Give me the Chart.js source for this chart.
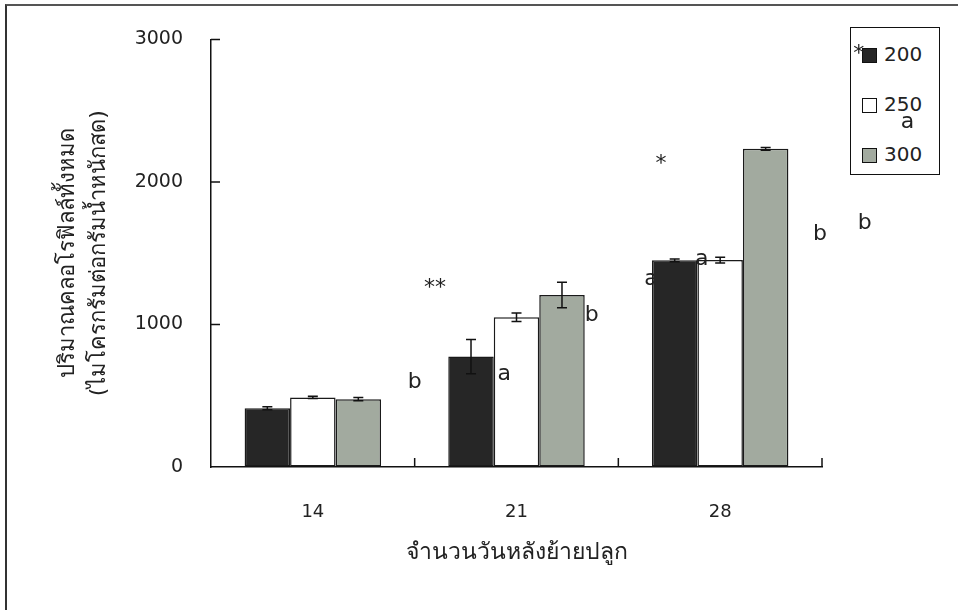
<!DOCTYPE html>
<html>
<head>
<meta charset="utf-8">
<script src="https://cdn.jsdelivr.net/npm/chart.js@4.4.1/dist/chart.umd.min.js"></script>
<style>
    html, body { margin: 0; padding: 0; background: #fff; }
    #wrap { position: relative; width: 958px; height: 610px; overflow: hidden; background: #fff; }
    #chart { position: absolute; left: 0; top: 0; z-index: 2; }
    #frame { position: absolute; left: 5px; top: 4px; width: 960px; height: 620px; z-index: 3;
             border-left: 2px solid #333; border-top: 2px solid #555; }
    #legend { position: absolute; left: 850px; top: 27px; width: 88px; height: 146px; z-index: 1;
              border: 1.5px solid #111; background: #fff;
              font-family: "DejaVu Sans", sans-serif; font-size: 20px; color: #222; }
    .item { position: absolute; left: 11px; height: 20px; line-height: 20px; }
    .box { display: inline-block; width: 15px; height: 15px; border: 1.5px solid #111;
           vertical-align: -2px; margin-right: 7px; box-sizing: border-box; }
</style>
</head>
<body>
<div id="wrap">
    <div id="legend"></div>
    <canvas id="chart" width="958" height="610"></canvas>
    <div id="frame"></div>
</div>
<script>
// data
const days = ["14", "21", "28"];
const seriesNames = ["200", "250", "300"];
const values200 = [412, 775, 1450];
const values250 = [488, 1050, 1452];
const values300 = [476, 1207, 2232];
const err200 = [10, 120, 10];
const err250 = [8, 30, 20];
const err300 = [12, 90, 10];
const yTicks = [0, 1000, 2000, 3000];
const colors = ["#262626", "#ffffff", "#a2aa9f"];

// stray significance marks printed on the figure: [category position, value, text, behind bars]
const marks = [
    [0.5, 593, "b"],
    [0.6, 1256, "**"],
    [0.94, 649, "a"],
    [1.37, 1061, "b"],
    [1.66, 1320, "a", true],
    [1.91, 1458, "a"],
    [1.71, 2121, "*"],
    [2.49, 1633, "b"],
    [2.71, 1710, "b"],
    [2.92, 2421, "a"],
    [2.68, 2896, "*"]
];

const FONT = "'DejaVu Sans', 'Noto Sans', sans-serif";

const values = [values200, values250, values300];
const errs = [err200, err250, err300];

const legend = document.getElementById("legend");
seriesNames.forEach((name, i) => {
    const d = document.createElement("div");
    d.className = "item";
    d.style.top = (16 + i * 50) + "px";
    d.innerHTML = '<span class="box" style="background:' + colors[i] + '"></span>' + name;
    legend.appendChild(d);
});

function drawMarks(chart, behind) {
    const ctx = chart.ctx;
    const x = chart.scales.x, y = chart.scales.y;
    ctx.save();
    ctx.fillStyle = "#222";
    ctx.font = "22px " + FONT;
    ctx.textAlign = "center";
    ctx.textBaseline = "middle";
    marks.filter(m => !!m[3] === behind).forEach(m => {
        ctx.fillText(m[2], x.getPixelForValue(m[0]), y.getPixelForValue(m[1]));
    });
    ctx.restore();
}

const errorBars = {
    id: "errorBars",
    beforeDatasetsDraw(chart) {
        drawMarks(chart, true);
    },
    afterDatasetsDraw(chart) {
        const ctx = chart.ctx;
        const y = chart.scales.y;
        ctx.save();
        ctx.strokeStyle = "#111";
        ctx.lineWidth = 1.5;
        errs.forEach((e, i) => {
            chart.getDatasetMeta(i).data.forEach((bar, j) => {
                const v = values[i][j];
                const top = y.getPixelForValue(v + e[j]);
                const bot = y.getPixelForValue(v - e[j]);
                ctx.beginPath();
                ctx.moveTo(bar.x, top); ctx.lineTo(bar.x, bot);
                ctx.moveTo(bar.x - 5, top); ctx.lineTo(bar.x + 5, top);
                ctx.moveTo(bar.x - 5, bot); ctx.lineTo(bar.x + 5, bot);
                ctx.stroke();
            });
        });
        ctx.restore();
    }
};

const axisExtras = {
    id: "axisExtras",
    afterDraw(chart) {
        const ctx = chart.ctx;
        const x = chart.scales.x, y = chart.scales.y;
        const a = chart.chartArea;
        ctx.save();
        ctx.strokeStyle = "#111";
        ctx.lineWidth = 1.5;
        ctx.beginPath();
        yTicks.slice(1).forEach(t => {
            const py = y.getPixelForValue(t);
            ctx.moveTo(a.left, py); ctx.lineTo(a.left + 9, py);
        });
        for (let k = 0; k < days.length; k++) {
            const px = x.getPixelForValue(k + 0.5);
            ctx.moveTo(px, a.bottom); ctx.lineTo(px, a.bottom - 9);
        }
        ctx.stroke();
        ctx.restore();
        drawMarks(chart, false);
    }
};

new Chart(document.getElementById("chart"), {
    type: "bar",
    data: {
        labels: days,
        datasets: seriesNames.map((name, i) => ({
            label: name,
            data: values[i],
            backgroundColor: colors[i],
            borderColor: "#1a1a1a",
            borderWidth: 1.5,
            borderSkipped: false
        }))
    },
    options: {
        responsive: false,
        animation: false,
        layout: { padding: { left: 0, right: 136, top: 37, bottom: 43 } },
        datasets: { bar: { categoryPercentage: 0.67, barPercentage: 1 } },
        plugins: { legend: { display: false }, tooltip: { enabled: false } },
        scales: {
            x: {
                grid: { display: false },
                border: { color: "#111", width: 1.5 },
                ticks: { color: "#222", padding: 27, font: { family: FONT, size: 18 } },
                title: {
                    display: true,
                    text: "จำนวนวันหลังย้ายปลูก",
                    color: "#222",
                    font: { family: FONT, size: 23 },
                    padding: { bottom: 0 }
                },
                afterFit(s) { s.height = 100; }
            },
            y: {
                min: 0, max: 3000,
                afterBuildTicks(s) { s.ticks = yTicks.map(v => ({ value: v })); },
                grid: { drawOnChartArea: false, drawTicks: false },
                border: { color: "#111", width: 1.5 },
                ticks: {
                    color: "#222", padding: 28, font: { family: FONT, size: 19 },
                    callback: v => String(v)
                },
                title: {
                    display: true,
                    text: ["ปริมาณคลอโรฟิลล์ทั้งหมด", "(ไมโครกรัมต่อกรัมน้ำหนักสด)"],
                    color: "#222",
                    font: { family: FONT, size: 22, lineHeight: "31px" },
                    padding: { top: 53 }
                },
                afterFit(s) { s.width = 211; }
            }
        }
    },
    plugins: [errorBars, axisExtras]
});
</script>
</body>
</html>
